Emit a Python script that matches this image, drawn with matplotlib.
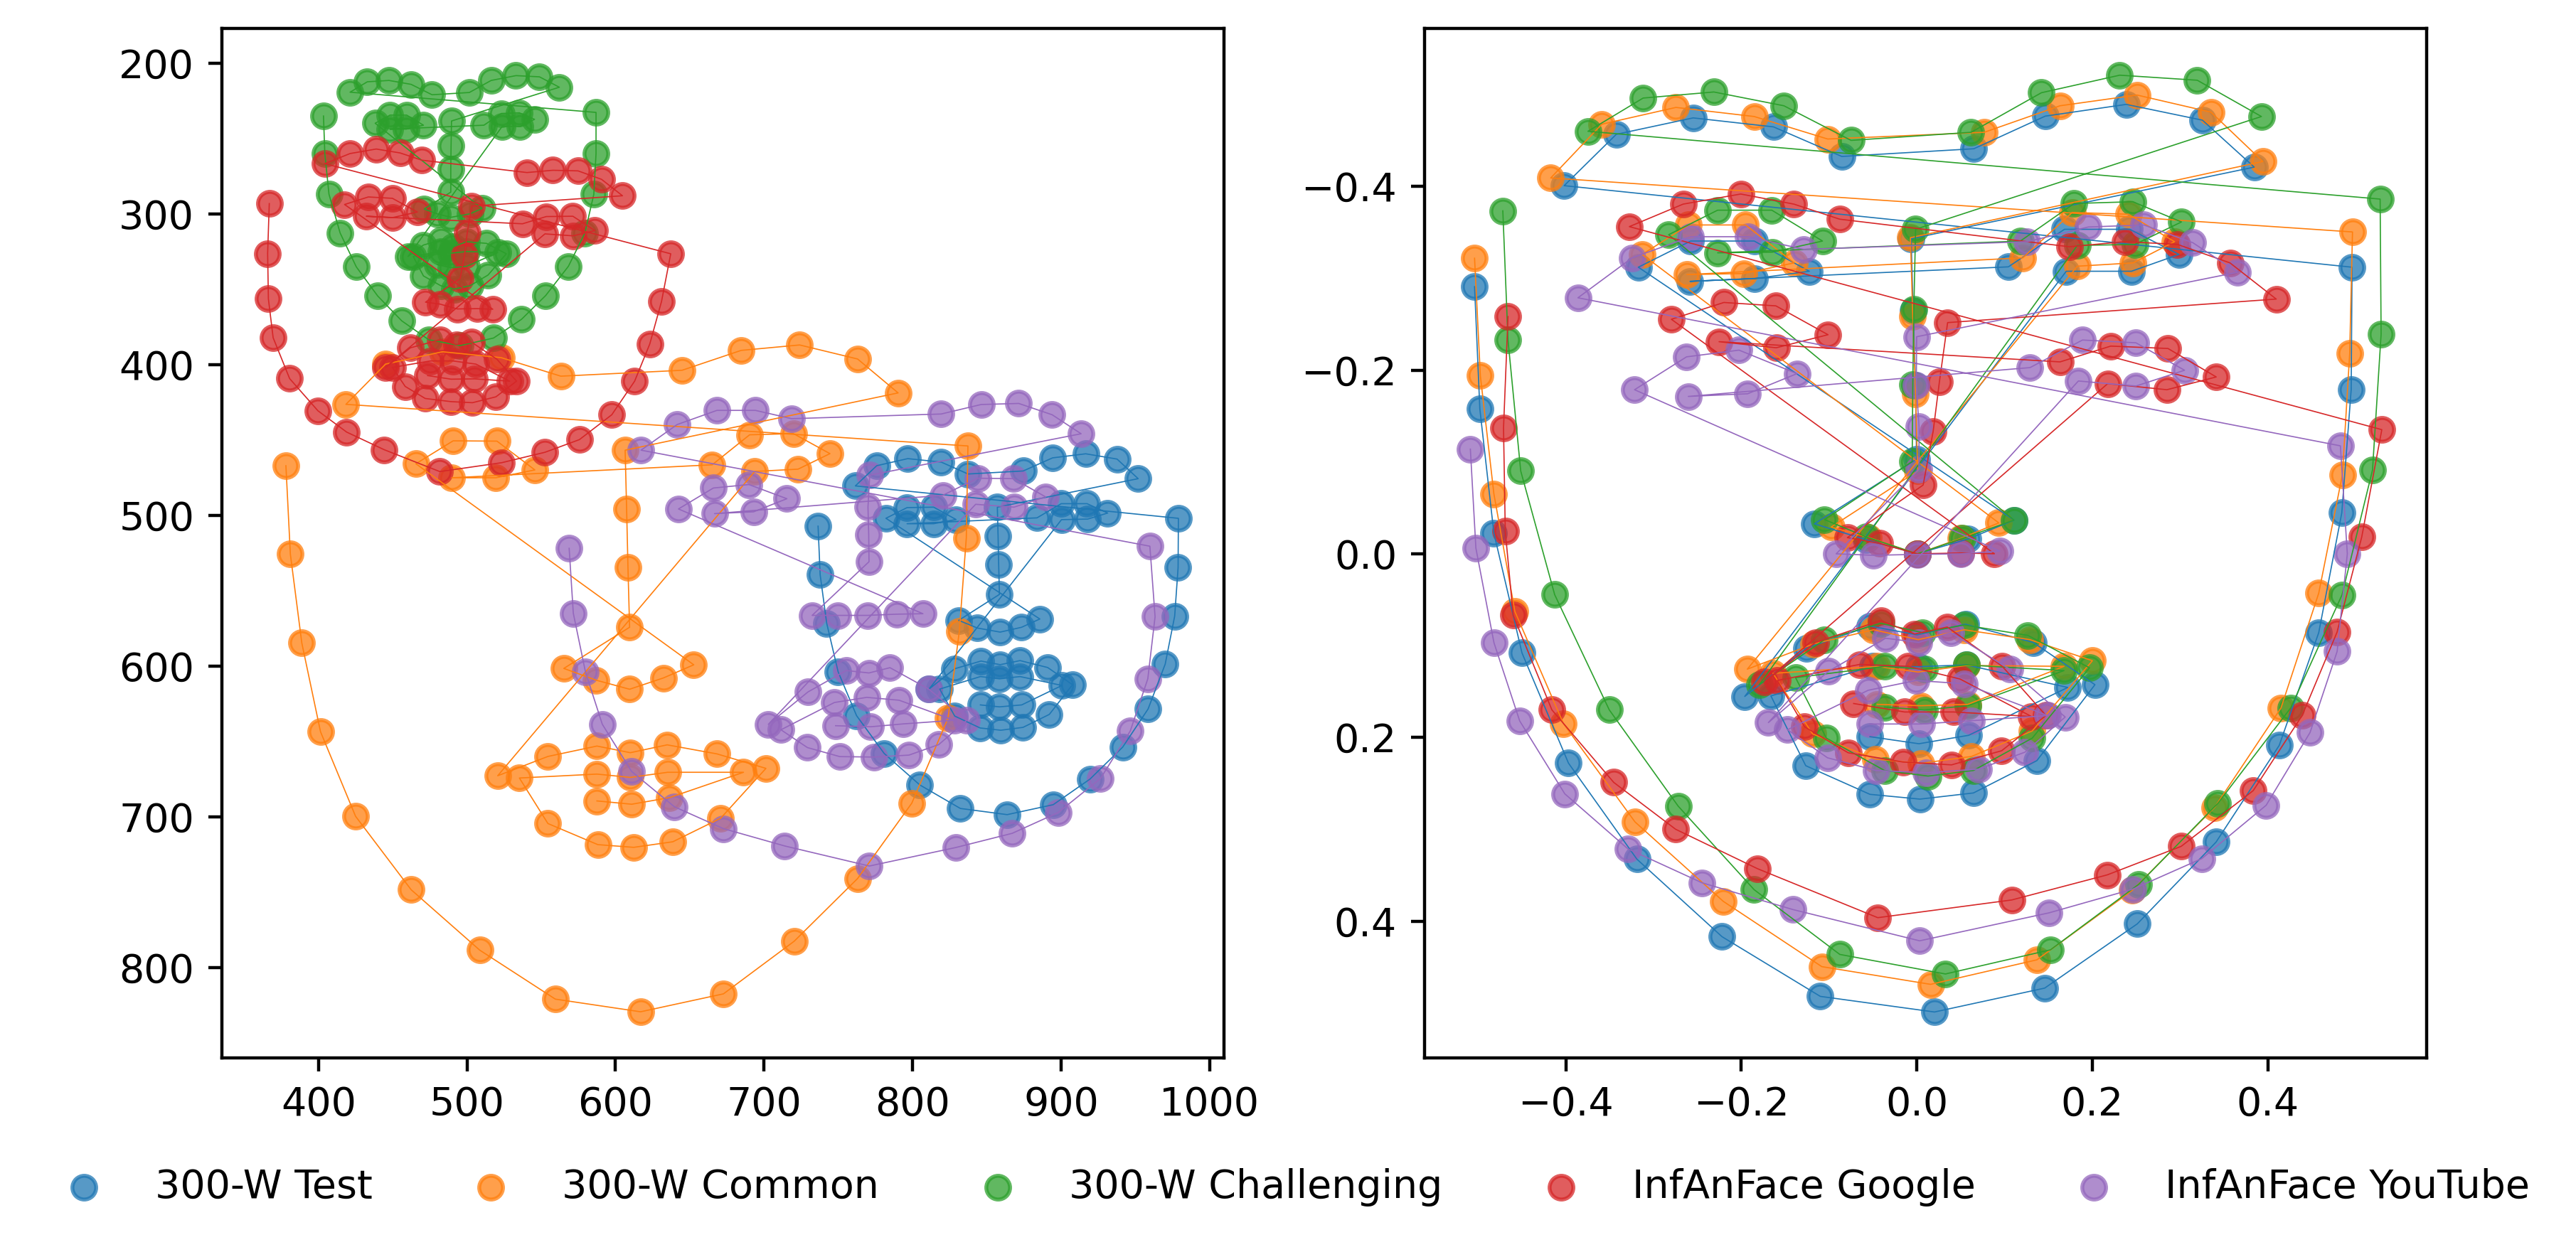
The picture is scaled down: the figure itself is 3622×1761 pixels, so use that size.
import numpy as np
import matplotlib
matplotlib.use("Agg")
import matplotlib.pyplot as plt

labels = ["300-W Test", "300-W Common", "300-W Challenging", "InfAnFace Google", "InfAnFace YouTube"]
colors = ["C0", "C1", "C2", "C3", "C4"]

# Left panel: pixel coordinates of one example face per dataset (68 landmarks)
test_px = [(736.4,507.2),(737.8,539.4),(742.2,571.6),(749.9,603.8),(762.3,632.9),(780.9,658),(804.9,678.9),(832.2,694.5),(863.7,698.6),(894.7,692),(919.5,675),(941.5,653.8),(958.6,628.5),(970.1,598.8),(976.5,566.9),(978.8,534.7),(979,502),
 (761.5,480.5),(775.9,467.1),(796.8,462.4),(819.3,464.7),(837.4,472.6),(874.5,470.6),(894.3,461.9),(916.6,459.2),(937.7,462.7),(951.9,475.7),
 (857.1,494.6),(857.6,513.9),(858,532.7),(858.5,552.5),(831.1,569.7),(843.7,574.8),(859,577.5),(873.4,574.3),(885.7,568.8),
 (782.1,502),(796.3,494.9),(814.2,494.6),(829.3,502.8),(814.2,505.6),(796.3,505.6),(883.8,501.7),(900.1,492.3),(917.5,492.3),(931.4,498.5),(918,502.5),(900.3,502.9),
 (811.1,615.3),(828.4,601.8),(846.1,596.7),(859,599.1),(872.4,596.4),(891,601),(907.7,612.4),(892.1,632.1),(874.4,640.7),(859.4,642.6),(845.5,641.1),(828.4,633.2),
 (818.3,615.3),(845.7,607),(858.5,608.5),(872.4,607),(900.6,612.9),(873.5,625.8),(858.5,627.1),(845.7,625.8)]

common_px = [(378.1,467.1),(381.1,525.8),(388.8,584.7),(401.4,643.6),(425,699.7),(462.4,748.4),(508.6,788.5),(559.5,821),(616.9,829.4),(672.7,817.5),(720.3,782.6),(763,741),(799.5,691),(823.9,634.6),(831.5,577),(836.2,515),(837.3,454),
 (418.5,426.4),(445.2,399.7),(483.5,391.5),(523,395.4),(563.2,407.7),(644.8,403.8),(684.6,390.6),(724,387),(763,396.3),(790.3,418.8),
 (606.5,456.8),(607.5,496),(608.4,534.6),(609.5,574.3),(565.2,601.6),(587,609.4),(609.5,615.4),(632.3,607.9),(652.7,599.2),
 (465.6,465.8),(490.7,450.6),(520.2,450.8),(545.7,469.9),(519.5,475.1),(489.8,475.1),(665.1,466.5),(690.3,446.6),(719.8,445.8),(744.4,459.1),(722.9,469.4),(693.8,470.9),
 (520.7,672.8),(554.5,660),(587.5,653.1),(610,657.5),(634.8,652.3),(668.3,658.3),(701.3,667.9),(670.8,701),(638.6,716.6),(612.3,720.3),(588.1,718.5),(554.5,704.5),
 (535.3,674.3),(587.5,671.7),(610,673.9),(635.1,670.5),(686.2,670.5),(636.4,687.3),(610.9,691.7),(587.5,689.5)]

challenging_px = [(403.4,235.1),(404.3,260),(407.1,287),(414.6,312.7),(425.5,335.2),(439.9,354.5),(456.1,371),(474.2,383.5),(495.4,387.4),(517.9,382.4),(536.7,370),(553,354.2),(568.3,334.8),(579.4,312.7),(585.4,287.1),(586.9,260),(586.9,232.7),
 (421.3,219.3),(432.9,212.4),(447.5,211.5),(462.4,214.1),(476.5,221),(501.6,219.5),(516.3,211.5),(533,208.3),(548.8,209.1),(562.2,216),
 (489.6,238.4),(489.3,254.8),(489.1,270.2),(489.1,285.6),(471.2,296.8),(480,300),(489.2,302.3),(502,300),(510.2,296.4),
 (438.2,239.9),(448.2,234.5),(459.4,234.5),(470.7,241.2),(459.1,243.8),(448.2,243.8),(511.4,241.2),(523.2,233.4),(535.3,233),(545.5,237.3),(535.8,242),(523.7,242),
 (460.3,328.3),(470.7,320.7),(482.4,317.4),(490.5,321.8),(499.8,318.5),(513.2,319.6),(526.5,326.5),(514.2,340.6),(502.1,347.7),(491.6,349.9),(482.4,347.7),(470.7,341.2),
 (463.8,328.3),(482.4,325),(489.3,326.1),(499.8,325),(520.7,325.7),(499.8,334.8),(489.3,335.8),(480,333.7)]

google_px = [(366.9,293.2),(365.8,326.3),(366.3,356.4),(369.5,382.2),(380.6,409.3),(399.7,430.7),(419,444.8),(444.3,456.5),(481.7,471),(523.4,465.1),(552.5,458.2),(575.7,449.8),(597.5,433.3),(612.9,411),(623.1,386.3),(631,358.1),(637.2,326.5),
 (404.3,266.7),(421.3,260),(438.9,257),(455,259.6),(469.6,264.4),(540.4,272.6),(557.8,271.1),(574.8,271.5),(590.6,277.1),(604.7,288),
 (503.2,294.9),(500.2,312.4),(498.4,327.4),(495.4,343),(472.1,358.6),(481.9,359.9),(493.5,363.1),(506.7,362.9),(517.4,363.3),
 (417.6,293.8),(433.6,288.8),(449.8,289.7),(466.6,298.8),(449.8,302.5),(432.2,301.6),(537.4,306.6),(553.4,301.8),(571.3,301.6),(586.1,311.1),(571.5,314.6),(552.5,313.3),
 (445.2,401.9),(461.9,388.9),(481.9,383.5),(492.8,386.7),(503.2,385.2),(520.2,396.5),(533.4,411),(519.5,421.4),(503.7,425.3),(489.3,424.6),(471.9,422.5),(458.4,414.5),
 (449.8,401.9),(475.4,397.6),(490.5,397.6),(506,399.7),(528.8,411),(505.1,409.5),(489.3,409.7),(473.5,407.3)]

youtube_px = [(568.8,521.9),(571.6,565),(579.8,604),(591.1,638.6),(610.9,670),(639.7,693.4),(672.7,707.9),(714,719.4),(770.9,732.7),(829.2,720.4),(867.1,711),(897.9,697.3),(926.5,674.7),(946.6,643.1),(958.4,608.5),(963.3,567.3),(959.8,520.5),
 (617.2,456.8),(641.5,439.8),(668.3,430.4),(694.2,430.4),(718.6,435.9),(819.3,432.8),(846.2,426.5),(871.5,425.8),(894,433.3),(913.5,445.9),
 (771.2,473.4),(770,494.6),(770.5,512.7),(770.7,530.8),(732.4,566.4),(749.9,566.4),(769.8,566.4),(789.5,565.6),(807,565.3),
 (642.4,495.8),(665.9,481.9),(689.8,479.6),(715.4,489),(693,497.7),(666.7,498.9),(820.4,486.7),(843.9,475.4),(868,475.7),(889.6,487.8),(868.3,494.6),(842.5,492.7),
 (702.9,638.7),(729.6,617.2),(755.3,603),(770.7,604.6),(784.8,601.1),(810.9,615.3),(836.5,636),(817.7,652.1),(797.6,659.1),(774.1,660.4),(751,660.1),(729.2,654.1),
 (711.4,642.3),(747.4,624.2),(769.2,620.8),(791,622.7),(828,636),(793.7,638.4),(771.9,640.3),(748.2,639.6)]

# Right panel: normalised mean faces
test_norm = [(-0.504,-0.2908),(-0.498,-0.1577),(-0.482,-0.0225),(-0.45,0.1079),(-0.397,0.228),(-0.319,0.3326),(-0.222,0.417),(-0.11,0.482),(0.0201,0.499),(0.1457,0.473),(0.2513,0.403),(0.341,0.314),(0.413,0.2087),(0.458,0.086),(0.4843,-0.0445),(0.495,-0.1786),(0.496,-0.312),
 (-0.4019,-0.4008),(-0.3425,-0.4567),(-0.2549,-0.4746),(-0.1633,-0.4648),(-0.0855,-0.4326),(0.065,-0.441),(0.1463,-0.4765),(0.2387,-0.4893),(0.3255,-0.4721),(0.3845,-0.421),
 (-0.0065,-0.343),(-0.0042,-0.265),(-0.0014,-0.183),(-0.0003,-0.103),(-0.1167,-0.0326),(-0.0576,-0.0152),(0.0003,0.0001),(0.0582,-0.016),(0.1108,-0.0366),
 (-0.3174,-0.312),(-0.2577,-0.3405),(-0.1853,-0.3405),(-0.1225,-0.3076),(-0.1849,-0.2996),(-0.2584,-0.2966),(0.1043,-0.3124),(0.1683,-0.3533),(0.2426,-0.3533),(0.2988,-0.3259),(0.2446,-0.3076),(0.1703,-0.3076),
 (-0.1961,0.1554),(-0.1258,0.1027),(-0.0534,0.0788),(0.0003,0.0883),(0.0554,0.0767),(0.1327,0.0966),(0.203,0.1426),(0.1368,0.2253),(0.0645,0.2605),(0.0036,0.2672),(-0.0534,0.262),(-0.1266,0.2308),
 (-0.1663,0.1548),(-0.0505,0.1227),(0.0024,0.123),(0.0562,0.121),(0.172,0.1456),(0.0591,0.1977),(0.0024,0.2069),(-0.0534,0.1992)]

common_norm = [(-0.504,-0.3218),(-0.4974,-0.1939),(-0.482,-0.0653),(-0.458,0.063),(-0.4027,0.185),(-0.3212,0.292),(-0.2206,0.3785),(-0.1083,0.4496),(0.0157,0.4689),(0.1368,0.4422),(0.2455,0.3666),(0.3394,0.2762),(0.415,0.168),(0.458,0.043),(0.485,-0.0861),(0.4933,-0.218),(0.4965,-0.3504),
 (-0.4172,-0.4092),(-0.359,-0.4677),(-0.2745,-0.486),(-0.1853,-0.4761),(-0.1016,-0.4516),(0.0768,-0.4589),(0.1632,-0.4878),(0.2509,-0.4995),(0.3353,-0.4808),(0.3943,-0.4271),
 (-0.0073,-0.3441),(-0.0046,-0.2582),(-0.0014,-0.1742),(0.0009,-0.0901),(-0.0977,-0.029),(-0.0555,-0.018),(0.0003,0.0001),(0.05,-0.0167),(0.0934,-0.0336),
 (-0.313,-0.3259),(-0.26,-0.358),(-0.1952,-0.358),(-0.1398,-0.3167),(-0.1971,-0.3051),(-0.262,-0.304),(0.1208,-0.3222),(0.177,-0.3716),(0.241,-0.3697),(0.2937,-0.3398),(0.2465,-0.3167),(0.1829,-0.3131),
 (-0.1932,0.1257),(-0.1175,0.0981),(-0.0493,0.0828),(0.0016,0.0935),(0.0541,0.0828),(0.1286,0.0935),(0.2001,0.1165),(0.1315,0.193),(0.0624,0.2207),(0.0045,0.2283),(-0.0472,0.2237),(-0.1188,0.1962),
 (-0.1639,0.1303),(-0.0452,0.1227),(0.0016,0.1288),(0.0562,0.1217),(0.1678,0.1226),(0.0582,0.164),(0.0045,0.1655),(-0.0452,0.164)]

challenging_norm = [(-0.4718,-0.3734),(-0.4659,-0.2327),(-0.4514,-0.0901),(-0.4127,0.0446),(-0.3505,0.17),(-0.272,0.2748),(-0.1854,0.3658),(-0.0878,0.4363),(0.0326,0.4576),(0.1523,0.4313),(0.2528,0.36),(0.3431,0.2718),(0.426,0.168),(0.4846,0.0447),(0.5193,-0.0912),(0.5291,-0.2389),(0.528,-0.3862),
 (-0.3748,-0.46),(-0.3119,-0.4962),(-0.2313,-0.5028),(-0.1515,-0.4878),(-0.0749,-0.4501),(0.0618,-0.4589),(0.142,-0.502),(0.2312,-0.5211),(0.3196,-0.5156),(0.3927,-0.4761),
 (-0.0014,-0.3533),(-0.0034,-0.2663),(-0.0046,-0.1844),(-0.0053,-0.1004),(-0.1051,-0.0372),(-0.0576,-0.0183),(0.0003,0.0001),(0.052,-0.0167),(0.1108,-0.0366),
 (-0.2828,-0.3474),(-0.227,-0.3741),(-0.1653,-0.3741),(-0.1075,-0.3405),(-0.1645,-0.3284),(-0.227,-0.3277),(0.118,-0.3405),(0.1793,-0.3814),(0.2461,-0.3833),(0.3016,-0.3613),(0.2485,-0.3368),(0.1829,-0.3357),
 (-0.1796,0.1426),(-0.1051,0.0935),(-0.041,0.0758),(0.0066,0.0859),(0.0541,0.0776),(0.1265,0.0889),(0.1968,0.1242),(0.1315,0.2008),(0.0645,0.236),(0.0128,0.2421),(-0.0369,0.236),(-0.1031,0.2008),
 (-0.1382,0.1349),(-0.0369,0.1227),(0.0086,0.1257),(0.0562,0.1211),(0.1678,0.1272),(0.0582,0.1655),(0.0086,0.1701),(-0.0369,0.167)]

google_norm = [(-0.4659,-0.2583),(-0.471,-0.1369),(-0.469,-0.0243),(-0.46,0.067),(-0.4159,0.17),(-0.3454,0.249),(-0.2749,0.3),(-0.1817,0.3429),(-0.0445,0.3963),(0.1082,0.377),(0.217,0.3497),(0.3013,0.3186),(0.3834,0.2579),(0.4392,0.176),(0.4789,0.0854),(0.507,-0.0181),(0.5299,-0.1351),
 (-0.3276,-0.3562),(-0.2663,-0.3807),(-0.2007,-0.3917),(-0.1401,-0.3807),(-0.0879,-0.3643),(0.1738,-0.3343),(0.2371,-0.3398),(0.2968,-0.3369),(0.3569,-0.3167),(0.4096,-0.2773),
 (0.0351,-0.2517),(0.0257,-0.187),(0.0186,-0.1332),(0.0072,-0.0748),(-0.0791,-0.0176),(-0.0423,-0.0112),(0.0003,0.0001),(0.05,-0.0008),(0.0884,0.0),
 (-0.2797,-0.2553),(-0.2199,-0.2736),(-0.1606,-0.2699),(-0.1012,-0.2385),(-0.1602,-0.2243),(-0.2254,-0.2309),(0.1632,-0.2089),(0.221,-0.2261),(0.2862,-0.2235),(0.3412,-0.1925),(0.285,-0.1786),(0.2175,-0.1852),
 (-0.1734,0.1395),(-0.1155,0.0966),(-0.041,0.0727),(-0.0025,0.0874),(0.0347,0.0798),(0.0975,0.1227),(0.1472,0.1762),(0.0967,0.2145),(0.0396,0.2299),(-0.0158,0.2268),(-0.0783,0.2167),(-0.1279,0.1885),
 (-0.1589,0.138),(-0.065,0.1205),(-0.01,0.1226),(0.0492,0.1364),(0.1306,0.1772),(0.0417,0.1723),(-0.0141,0.1723),(-0.072,0.1631)]

youtube_norm = [(-0.5088,-0.1139),(-0.5025,-0.0061),(-0.4819,0.0969),(-0.4526,0.182),(-0.4012,0.2614),(-0.3293,0.3213),(-0.2448,0.3583),(-0.1414,0.3874),(0.0032,0.4215),(0.1508,0.391),(0.2462,0.3652),(0.3247,0.332),(0.3981,0.2739),(0.4481,0.1947),(0.479,0.1064),(0.4906,0.0),(0.4827,-0.1175),
 (-0.3862,-0.2787),(-0.3244,-0.3222),(-0.2576,-0.3452),(-0.192,-0.3452),(-0.1287,-0.3314),(0.1259,-0.3398),(0.1955,-0.3558),(0.2587,-0.358),(0.3145,-0.3387),(0.3656,-0.3065),
 (-0.0002,-0.2363),(-0.0006,-0.1833),(0.0025,-0.1384),(0.0025,-0.092),(-0.0919,0.0001),(-0.0493,0.0017),(0.0003,0.0007),(0.05,0.0001),(0.0946,-0.0029),
 (-0.3217,-0.1786),(-0.2624,-0.2144),(-0.2026,-0.2217),(-0.1366,-0.1961),(-0.1928,-0.1742),(-0.2604,-0.1713),(0.129,-0.2027),(0.1888,-0.2327),(0.2497,-0.2297),(0.3051,-0.1998),(0.2497,-0.1826),(0.1841,-0.1881),
 (-0.1692,0.1839),(-0.101,0.1282),(-0.0356,0.092),(0.0024,0.0966),(0.0388,0.0859),(0.1058,0.1257),(0.1691,0.1778),(0.1232,0.2161),(0.0707,0.2345),(0.0107,0.2384),(-0.0464,0.236),(-0.1018,0.2222),
 (-0.1473,0.1916),(-0.0555,0.1487),(-0.0009,0.138),(0.0541,0.1416),(0.1492,0.1762),(0.0624,0.1818),(0.0053,0.1854),(-0.0534,0.1854)]

left_series = [test_px, common_px, challenging_px, google_px, youtube_px]
right_series = [test_norm, common_norm, challenging_norm, google_norm, youtube_norm]

W, H = 3623, 1761
fig = plt.figure(figsize=(W / 400, H / 400), dpi=400)


def axes_px(x0, x1, y0, y1):
    return fig.add_axes([x0 / W, 1 - y1 / H, (x1 - x0) / W, (y1 - y0) / H])


ax1 = axes_px(312, 1721, 40, 1488)
ax2 = axes_px(2003, 3412, 40, 1488)

for ax, group in ((ax1, left_series), (ax2, right_series)):
    for pts, color, label in zip(group, colors, labels):
        arr = np.array(pts)
        ax.scatter(arr[:, 0], arr[:, 1], s=36, color=color, alpha=0.75, linewidths=1.0, label=label)
        ax.plot(arr[:, 0], arr[:, 1], color=color, lw=0.3)

ax1.set_xlim(335, 1009.7)
ax1.set_ylim(860, 177)
ax1.set_xticks([400, 500, 600, 700, 800, 900, 1000])
ax1.set_yticks([200, 300, 400, 500, 600, 700, 800])
ax2.set_xlim(-0.561, 0.581)
ax2.set_ylim(0.549, -0.572)
ax2.set_xticks([-0.4, -0.2, 0.0, 0.2, 0.4])
ax2.set_yticks([-0.4, -0.2, 0.0, 0.2, 0.4])

handles, leg_labels = ax1.get_legend_handles_labels()
fig.legend(handles, leg_labels, loc="center", bbox_to_anchor=(0.4995, 0.0518), ncol=5, frameon=False)
fig.savefig("out.png", dpi=400)
